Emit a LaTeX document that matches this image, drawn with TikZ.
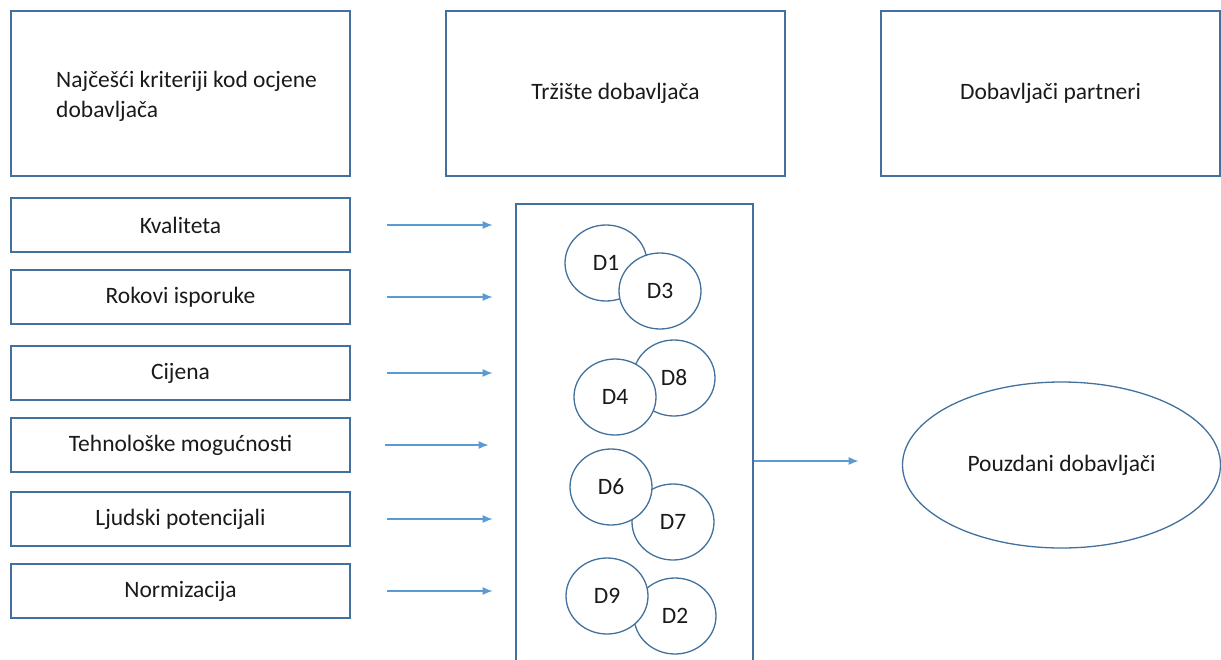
\documentclass[tikz,border=0pt]{standalone}
\usepackage{fontspec}
\setmainfont{Carlito}
\usetikzlibrary{arrows.meta,shapes.geometric}

\definecolor{shapeline}{HTML}{41719C}
\definecolor{arrowline}{HTML}{5B9BD5}
\definecolor{textgray}{HTML}{1A1A1A}

\begin{document}
\begin{tikzpicture}[x=1pt,y=-1pt,
        font=\fontsize{23.5}{30}\selectfont, text=textgray,
        topbox/.style={draw=shapeline, line width=1.3pt, minimum width=339pt, minimum height=165pt, inner sep=0pt},
        critbox/.style={draw=shapeline, line width=1.3pt, minimum width=339pt, minimum height=54pt, inner sep=0pt},
        supplier/.style={ellipse, draw=shapeline, fill=white, line width=1.3pt, minimum width=82pt, minimum height=76pt, inner sep=0pt},
        flow/.style={draw=arrowline, line width=1.3pt, -{Latex[length=10pt,width=8pt]}}]
                \useasboundingbox (0,0) rectangle (1221,659);
                % Headers
                \node [topbox] (critHead) at (180.5, 93.5) {};
                \node [align=left, anchor=west, inner sep=0pt] (critText) at (56, 96) {Najčešći kriteriji kod ocjene\\dobavljača};
                \node [topbox] (marketHead) at (615.5, 93.5) {Tržište dobavljača};
                \node [topbox] (partnerHead) at (1050.5, 93.5) {Dobavljači partneri};
                % Criteria
                \node [critbox] (kvaliteta) at (180.5, 225) {Kvaliteta};
                \node [critbox] (rokovi) at (180.5, 297) {Rokovi isporuke};
                \node [critbox] (cijena) at (180.5, 373) {Cijena};
                \node [critbox] (tehnologija) at (180.5, 445) {Tehnološke mogućnosti};
                \node [critbox] (ljudi) at (180.5, 519) {Ljudski potencijali};
                \node [critbox] (norme) at (180.5, 591) {Normizacija};
                % Market of suppliers
                \node [draw=shapeline, line width=1.3pt, minimum width=237pt, minimum height=514pt, inner sep=0pt] (market) at (634.5, 461) {};
                \node [supplier] (d1) at (606, 263) {D1};
                \node [supplier] (d3) at (660, 291) {D3};
                \node [supplier] (d8) at (674, 378) {D8};
                \node [supplier] (d4) at (615, 397) {D4};
                \node [supplier] (d7) at (673, 522) {D7};
                \node [supplier] (d6) at (611, 487) {D6};
                \node [supplier] (d2) at (675, 616) {D2};
                \node [supplier] (d9) at (607, 596) {D9};
                % Reliable suppliers
                \node [ellipse, draw=shapeline, line width=1.3pt, minimum width=318pt, minimum height=166pt, inner sep=0pt] (reliable) at (1061.5, 465) {Pouzdani dobavljači};
                % Arrows
                \draw [flow] ([xshift=36pt]kvaliteta.east) -- ([xshift=142pt]kvaliteta.east);
                \draw [flow] ([xshift=36pt]rokovi.east) -- ([xshift=142pt]rokovi.east);
                \draw [flow] ([xshift=36pt]cijena.east) -- ([xshift=142pt]cijena.east);
                \draw [flow] ([xshift=34pt]tehnologija.east) -- ([xshift=138pt]tehnologija.east);
                \draw [flow] ([xshift=36pt]ljudi.east) -- ([xshift=142pt]ljudi.east);
                \draw [flow] ([xshift=36pt]norme.east) -- ([xshift=142pt]norme.east);
                \draw [flow] (market.east) -- ([xshift=105pt]market.east);
\end{tikzpicture}
\end{document}
